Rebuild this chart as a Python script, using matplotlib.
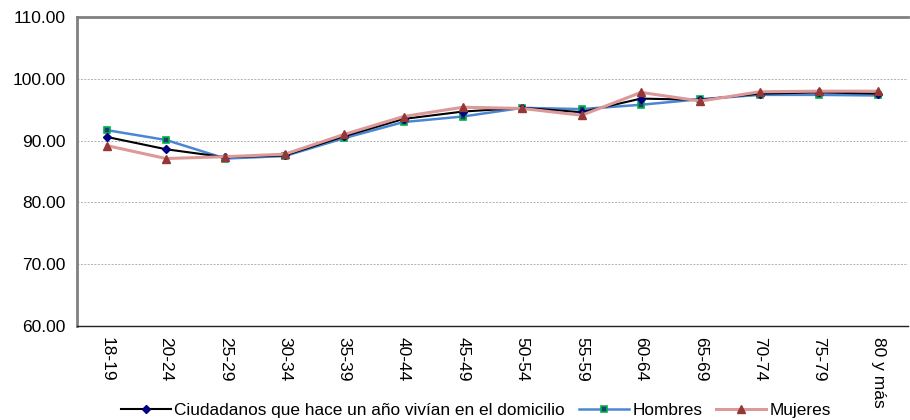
import matplotlib
matplotlib.use('Agg')
import matplotlib.pyplot as plt

plt.rcParams['font.family'] = ['Liberation Sans', 'DejaVu Sans']

grupos = ['18-19', '20-24', '25-29', '30-34', '35-39', '40-44', '45-49',
          '50-54', '55-59', '60-64', '65-69', '70-74', '75-79', '80 y más']
total = [90.6, 88.6, 87.3, 87.6, 90.7, 93.5, 94.7, 95.3, 94.6, 96.8, 96.6, 97.6, 97.8, 97.6]
hombres = [91.7, 90.1, 87.1, 87.5, 90.4, 93.0, 93.9, 95.3, 95.1, 95.8, 96.7, 97.4, 97.4, 97.3]
mujeres = [89.2, 87.1, 87.4, 87.8, 91.0, 93.9, 95.4, 95.2, 94.1, 97.8, 96.4, 97.9, 98.0, 98.0]

fig = plt.figure(figsize=(9.1, 4.2), dpi=100)
ax = fig.add_axes([0.0846, 0.2238, 0.9134, 0.7357])

x = list(range(len(grupos)))
ax.plot(x, total, color='black', lw=1.5, marker='D', ms=4, mfc='#000080', mec='#000080',
        label='Ciudadanos que hace un año vivían en el domicilio', zorder=3)
ax.plot(x, hombres, color='#4a86d4', lw=1.8, marker='s', ms=4.5, mfc='#1f3f6f', mec='#00b050',
        mew=1.2, label='Hombres', zorder=2)
ax.plot(x, mujeres, color='#dd9999', lw=2.2, marker='^', ms=6, mfc='#953735', mec='#953735',
        label='Mujeres', zorder=4)

ax.set_xlim(-0.5, len(grupos) - 0.5)
ax.set_ylim(60, 110)
ax.set_yticks([60, 70, 80, 90, 100, 110])
ax.set_yticklabels(['%.2f' % v for v in [60, 70, 80, 90, 100, 110]], fontsize=12.5)
ax.set_xticks(x)
ax.set_xticklabels(grupos, rotation=270, fontsize=12.5)
ax.tick_params(axis='both', length=0, pad=8)

for v in [70, 80, 90, 100]:
    ax.axhline(v, color='#b0b0b0', lw=0.7, ls=(0, (2, 1.5)), zorder=0)

ax.spines['right'].set_visible(False)
ax.spines['top'].set_color('#808080')
ax.spines['top'].set_linewidth(2)
ax.spines['left'].set_color('#808080')
ax.spines['left'].set_linewidth(2)
ax.spines['bottom'].set_color('#222222')
ax.spines['bottom'].set_linewidth(1)

ax.legend(loc='upper center', bbox_to_anchor=(0.48, -0.25), ncol=3, frameon=False,
          fontsize=12.4, handlelength=2.9, columnspacing=0.8, handletextpad=0.2,
          borderaxespad=0, borderpad=0)

plt.savefig('out.png', dpi=100)
